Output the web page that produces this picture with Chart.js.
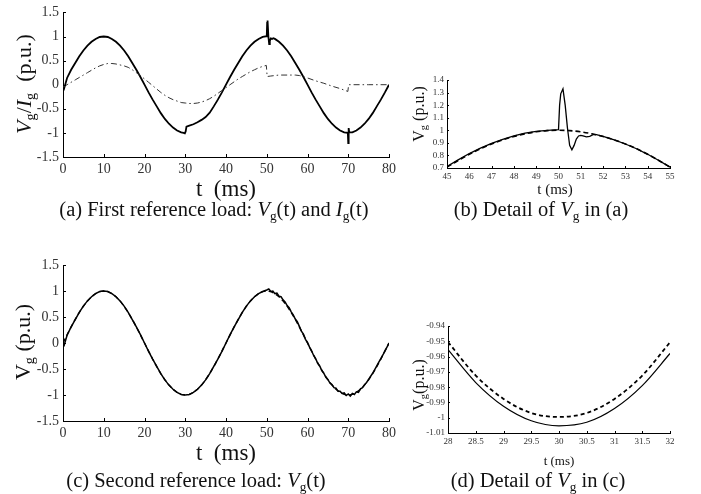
<!DOCTYPE html>
<html>
<head>
<meta charset="utf-8">
<script src="https://cdn.jsdelivr.net/npm/chart.js@4.4.0/dist/chart.umd.min.js"></script>
<style>
  body { margin: 0; background: #fff; }
  #wrap { position: relative; width: 701px; height: 494px; overflow: hidden; font-family: "Liberation Serif", "Times New Roman", serif; color: #111; }
  canvas { position: absolute; left: 0; top: 0; }
  .lbl { position: absolute; white-space: nowrap; transform: translate(-50%, -50%); line-height: 1; }
  .rot { transform: translate(-50%, -50%) rotate(-90deg); }
  .lbl sub { font-size: 65%; vertical-align: -0.3em; }
</style>
</head>
<body>
<div id="wrap">
  <canvas id="ca" width="701" height="494"></canvas>
  <canvas id="cb" width="701" height="494"></canvas>
  <canvas id="cc" width="701" height="494"></canvas>
  <canvas id="cd" width="701" height="494"></canvas>

  <div class="lbl rot" style="left:25px;top:84px;font-size:22px"><i>V</i><sub>g</sub>/<i>I</i><sub>g</sub>&nbsp;&nbsp;(p.u.)</div>
  <div class="lbl" style="left:226px;top:188px;font-size:23px">t&nbsp; (ms)</div>
  <div class="lbl rot" style="left:420px;top:114px;font-size:16px">V<sub>g</sub> (p.u.)</div>
  <div class="lbl" style="left:555px;top:189px;font-size:15px">t&nbsp;(ms)</div>
  <div class="lbl rot" style="left:24px;top:342px;font-size:22px">V<sub>g</sub>&nbsp;(p.u.)</div>
  <div class="lbl" style="left:226px;top:452px;font-size:23px">t&nbsp; (ms)</div>
  <div class="lbl rot" style="left:420px;top:385px;font-size:16px">V<sub>g</sub>(p.u.)</div>
  <div class="lbl" style="left:559px;top:460px;font-size:13px">t (ms)</div>

  <div class="lbl" style="left:214px;top:211px;font-size:20.5px">(a) First reference load: <i>V</i><sub>g</sub>(t) and <i>I</i><sub>g</sub>(t)</div>
  <div class="lbl" style="left:541px;top:211px;font-size:20.5px">(b) Detail of <i>V</i><sub>g</sub> in (a)</div>
  <div class="lbl" style="left:196px;top:482px;font-size:20.5px">(c) Second reference load: <i>V</i><sub>g</sub>(t)</div>
  <div class="lbl" style="left:538px;top:482px;font-size:20.5px">(d) Detail of <i>V</i><sub>g</sub> in (c)</div>
</div>
<script>
// tick values
const ticksT80 = [0, 10, 20, 30, 40, 50, 60, 70, 80];
const ticksPu = [-1.5, -1, -0.5, 0, 0.5, 1, 1.5];
const ticksB_x = [45, 46, 47, 48, 49, 50, 51, 52, 53, 54, 55];
const ticksB_y = [0.7, 0.8, 0.9, 1, 1.1, 1.2, 1.3, 1.4];
const ticksD_x = [28, 28.5, 29, 29.5, 30, 30.5, 31, 31.5, 32];
const ticksD_y = [-1.01, -1, -0.99, -0.98, -0.97, -0.96, -0.95, -0.94];

// (a) grid voltage and current, first load  [t ms, p.u.]
const vgA = [[0,0],[0.3,-0.07],[1,0.14],[2,0.31],[3,0.45],[4,0.59],[5,0.71],[6,0.81],[7,0.89],[8,0.95],[9,0.99],[10,1],
  [11,0.99],[12,0.95],[13,0.89],[14,0.81],[15,0.71],[16,0.59],[17,0.45],[18,0.31],[19,0.16],[20,0],
  [21,-0.16],[22,-0.31],[23,-0.45],[24,-0.59],[25,-0.71],[26,-0.81],[27,-0.89],[28,-0.95],[29,-0.99],[29.6,-1],[29.9,-1.01],
  [30.1,-0.97],[30.3,-0.87],[31,-0.85],[32,-0.82],[33,-0.78],[34,-0.73],[35,-0.67],[36,-0.58],[37,-0.45],[38,-0.31],[39,-0.16],[40,0],
  [41,0.16],[42,0.31],[43,0.45],[44,0.59],[45,0.71],[46,0.81],[47,0.89],[48,0.95],[49,0.99],[50,1.005],
  [50.1,1.28],[50.2,1.33],[50.4,1],[50.6,0.84],[50.75,0.91],[51,0.96],[51.3,0.95],[51.6,0.965],[52,0.95],[53,0.89],[54,0.81],[55,0.71],
  [56,0.59],[57,0.45],[58,0.31],[59,0.16],[60,0],[61,-0.16],[62,-0.31],[63,-0.45],[64,-0.59],[65,-0.71],[66,-0.81],[67,-0.89],[68,-0.95],[69,-0.99],
  [69.9,-1],[70,-1.21],[70.1,-0.9],[70.25,-0.99],[71,-0.99],[72,-0.95],[73,-0.89],[74,-0.81],[75,-0.71],[76,-0.59],[77,-0.45],[78,-0.31],[79,-0.16],[80,0]];
const igA = [[0,-0.05],[1,0],[2,0.05],[3,0.1],[4,0.15],[5,0.2],[6,0.25],[7,0.3],[8,0.35],[9,0.39],[10,0.42],[11,0.44],[12,0.44],
  [13,0.43],[14,0.41],[15,0.39],[16,0.36],[17,0.31],[18,0.25],[19,0.19],[20,0.12],[21,0.05],[22,-0.02],[23,-0.09],[24,-0.16],[25,-0.22],
  [26,-0.27],[27,-0.31],[28,-0.34],[29,-0.37],[30,-0.38],[31,-0.39],[32,-0.39],[33,-0.38],[34,-0.36],[35,-0.33],[36,-0.29],[37,-0.24],
  [38,-0.18],[39,-0.12],[40,-0.06],[41,0],[42,0.06],[43,0.12],[44,0.17],[45,0.22],[46,0.27],[47,0.31],[48,0.35],[49,0.38],[49.9,0.4],
  [50.1,0.17],[51,0.18],[52,0.19],[53,0.2],[55,0.2],[57,0.2],[58,0.19],[60,0.14],[62,0.08],[64,0.03],[66,-0.03],[68,-0.08],[69.9,-0.14],
  [70.1,0],[75,0],[80,0]];

// (b) detail around the 50 ms step
const refB = [[45,0.707],[45.5,0.76],[46,0.809],[46.5,0.853],[47,0.891],[47.5,0.924],[48,0.951],[48.5,0.972],[49,0.988],[49.5,0.997],[50,1],
  [50.5,0.997],[51,0.988],[51.5,0.972],[52,0.951],[52.5,0.924],[53,0.891],[53.5,0.853],[54,0.809],[54.5,0.76],[55,0.707]];
const vgB = [[45,0.712],[45.5,0.765],[46,0.815],[46.5,0.858],[47,0.896],[47.5,0.928],[48,0.955],[48.5,0.977],[49,0.992],[49.5,1],[50,1.005],
  [50.05,1.2],[50.1,1.29],[50.2,1.33],[50.3,1.2],[50.4,1.02],[50.5,0.88],[50.6,0.845],[50.7,0.88],[50.8,0.93],[50.9,0.955],[51,0.96],
  [51.1,0.955],[51.25,0.948],[51.4,0.952],[51.55,0.965],[51.7,0.965],[52,0.951],[52.5,0.924],[53,0.891],[53.5,0.853],[54,0.809],[54.5,0.76],[55,0.707]];

// (c) second load
const refC = [[0,0],[1,0.156],[2,0.309],[3,0.454],[4,0.588],[5,0.707],[6,0.809],[7,0.891],[8,0.951],[9,0.988],[10,1],
  [11,0.988],[12,0.951],[13,0.891],[14,0.809],[15,0.707],[16,0.588],[17,0.454],[18,0.309],[19,0.156],[20,0],
  [21,-0.156],[22,-0.309],[23,-0.454],[24,-0.588],[25,-0.707],[26,-0.809],[27,-0.891],[28,-0.951],[29,-0.988],[30,-1],
  [31,-0.988],[32,-0.951],[33,-0.891],[34,-0.809],[35,-0.707],[36,-0.588],[37,-0.454],[38,-0.309],[39,-0.156],[40,0],
  [41,0.156],[42,0.309],[43,0.454],[44,0.588],[45,0.707],[46,0.809],[47,0.891],[48,0.951],[49,0.988],[50,1],
  [51,0.988],[52,0.951],[53,0.891],[54,0.809],[55,0.707],[56,0.588],[57,0.454],[58,0.309],[59,0.156],[60,0],
  [61,-0.156],[62,-0.309],[63,-0.454],[64,-0.588],[65,-0.707],[66,-0.809],[67,-0.891],[68,-0.951],[69,-0.988],[70,-1],
  [71,-0.988],[72,-0.951],[73,-0.891],[74,-0.809],[75,-0.707],[76,-0.588],[77,-0.454],[78,-0.309],[79,-0.156],[80,0]];
const vgC = [[0,0],[0.3,-0.04],[1,0.15],[2,0.31],[3,0.45],[4,0.59],[5,0.71],[6,0.81],[7,0.89],[8,0.95],[9,0.99],[10,1],
  [11,0.99],[12,0.95],[13,0.89],[14,0.81],[15,0.71],[16,0.59],[17,0.45],[18,0.31],[19,0.16],[20,0],
  [21,-0.16],[22,-0.31],[23,-0.45],[24,-0.59],[25,-0.71],[26,-0.81],[27,-0.89],[28,-0.95],[29,-0.99],[30,-1],
  [31,-0.99],[32,-0.95],[33,-0.89],[34,-0.81],[35,-0.71],[36,-0.59],[37,-0.45],[38,-0.31],[39,-0.16],[40,0],
  [41,0.16],[42,0.31],[43,0.45],[44,0.59],[45,0.71],[46,0.81],[47,0.89],[48,0.95],[49,0.99],[50,1.02],
  [50.5,1.04],[51,0.99],[51.5,1],[52,0.95],[52.5,0.96],[53,0.9],[53.5,0.89],[54,0.83],[54.5,0.79],[55,0.72],
  [55.5,0.68],[56,0.6],[56.5,0.54],[57,0.46],[57.5,0.41],[58,0.32],[58.5,0.23],[59,0.17],[59.5,0.07],[60,0.01],
  [60.5,-0.08],[61,-0.15],[61.5,-0.24],[62,-0.3],[62.5,-0.39],[63,-0.44],[63.5,-0.53],[64,-0.58],[64.5,-0.66],[65,-0.7],
  [65.5,-0.77],[66,-0.8],[66.5,-0.86],[67,-0.87],[67.5,-0.93],[68,-0.93],[68.5,-0.97],[69,-0.96],[69.5,-1.01],[70,-0.98],
  [70.5,-1.02],[71,-0.97],[71.5,-0.99],[72,-0.94],[72.5,-0.95],[73,-0.88],[73.5,-0.86],[74,-0.8],[74.5,-0.76],[75,-0.7],
  [75.5,-0.64],[76,-0.58],[76.5,-0.51],[77,-0.44],[77.5,-0.37],[78,-0.3],[78.5,-0.23],[79,-0.15],[79.5,-0.08],[80,0]];

// (d) detail around the 30 ms trough
const refD = [[28,-0.9505],[28.5,-0.9724],[29,-0.9877],[29.5,-0.9969],[30,-0.9995],[30.5,-0.9969],[31,-0.9877],[31.5,-0.9724],[32,-0.9507]];
const vgD = [[28,-0.9555],[28.5,-0.977],[29,-0.9925],[29.5,-1.002],[30,-1.0053],[30.5,-1.003],[31,-0.994],[31.5,-0.979],[32,-0.958]];

const pts = (arr) => arr.map(p => ({ x: p[0], y: p[1] }));

const inTicks = {
  id: 'inTicks',
  afterDraw(chart, args, opts) {
    const { ctx, chartArea: a, scales: { x, y } } = chart;
    const L = opts.len || 3;
    ctx.save();
    ctx.strokeStyle = '#000';
    ctx.lineWidth = 1;
    ctx.beginPath();
    x.ticks.forEach(t => {
      const p = Math.round(x.getPixelForValue(t.value)) + 0.5;
      ctx.moveTo(p, a.bottom); ctx.lineTo(p, a.bottom - L);
    });
    y.ticks.forEach(t => {
      const p = Math.round(y.getPixelForValue(t.value)) + 0.5;
      ctx.moveTo(a.left, p); ctx.lineTo(a.left + L, p);
    });
    ctx.stroke();
    ctx.restore();
  }
};

function panel(id, area, xr, yr, xt, yt, font, pad, tlen, datasets) {
  const YW = 40, XH = 20;
  const axis = (r, t, isX) => ({
    type: 'linear',
    min: r[0], max: r[1],
    afterBuildTicks: s => { s.ticks = t.map(v => ({ value: v })); },
    afterFit: s => { if (isX) s.height = XH; else s.width = YW; },
    grid: { display: false, drawTicks: false },
    border: { display: true, color: '#000', width: 1 },
    ticks: {
      autoSkip: false, maxRotation: 0, padding: pad,
      color: '#333',
      font: { family: 'Liberation Serif', size: font },
      callback: v => String(v)
    }
  });
  return new Chart(document.getElementById(id), {
    type: 'line',
    data: { datasets: datasets },
    options: {
      responsive: false,
      animation: false,
      devicePixelRatio: 1,
      layout: { padding: { left: area[0] - YW, top: area[1], right: 701 - area[2], bottom: 494 - area[3] - XH } },
      scales: { x: axis(xr, xt, true), y: axis(yr, yt, false) },
      plugins: { legend: { display: false }, tooltip: { enabled: false }, inTicks: { len: tlen } },
      elements: { point: { radius: 0 }, line: { tension: 0 } }
    },
    plugins: [inTicks]
  });
}

const solid = (d, w) => ({ data: pts(d), borderColor: '#000', borderWidth: w, fill: false });
const dashed = (d, w, dash, c) => ({ data: pts(d), borderColor: c || '#000', borderWidth: w, borderDash: dash, fill: false });
const smooth = (ds) => Object.assign(ds, { cubicInterpolationMode: 'monotone' });

panel('ca', [63, 11, 389, 157], [0, 80], [-1.5, 1.5], ticksT80, ticksPu, 14, 4, 3, [
  dashed(igA, 1, [6, 3, 1.5, 3], '#333'),
  solid(vgA, 1.8)
]);
panel('cb', [447, 80, 670, 168], [45, 55], [0.7, 1.4], ticksB_x, ticksB_y, 9, 3, 2, [
  smooth(dashed(refB, 1.6, [5, 3])),
  solid(vgB, 1.3)
]);
panel('cc', [63, 265, 389, 421], [0, 80], [-1.5, 1.5], ticksT80, ticksPu, 14, 4, 3, [
  dashed(refC, 1.4, [5, 3]),
  solid(vgC, 1.5)
]);
panel('cd', [448, 326, 670, 433], [28, 32], [-1.01, -0.94], ticksD_x, ticksD_y, 9, 3, 2, [
  smooth(dashed(refD, 1.8, [4, 3])),
  smooth(solid(vgD, 1.2))
]);
</script>
</body>
</html>
